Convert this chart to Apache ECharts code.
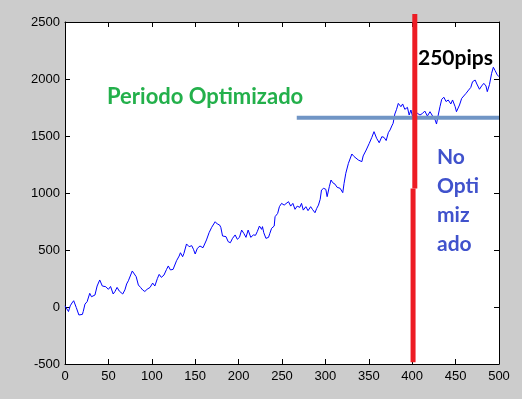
<!DOCTYPE html>
<html>
<head>
<meta charset="utf-8">
<script src="https://cdn.jsdelivr.net/npm/echarts@6/dist/echarts.min.js"></script>
<style>
html,body{margin:0;padding:0;background:#cccccc;}
#main{width:522px;height:399px;}
</style>
</head>
<body>
<div id="main"></div>
<script>
// curva de equity (x = operacion, y = pips)
var equityX = [0,2,4,6,8,10,13,16,18,20,21,23,25.5,28.5,30.5,34.5,37,40,43,47,50,52.5,55.5,57.5,60,62.5,66.5,69,71,73,75,77.5,79.5,82,84.5,87,89.5,92,94.5,98,101,103.5,106.5,108.5,111,114,117,119,121.5,124.5,126.5,128.5,131.5,133,135.5,137,140,143,146,148,150,152.5,
	155.5,159,163,166,169,173,175.5,178,179.5,181.5,183,185.5,188,190.5,193,196,198.5,201,203.5,206,208.5,211,214,217,219.5,221.5,224,226.5,227.5,229,231.5,234.5,236,238,241,242,245,247,249.5,252.5,254.5,257.5,260,262.5,265,267.5,270.5,272.5,274.5,277.5,280,283,285,288,290,292,294,295.5,298,300.5,302,304.5,306.5,308.5,311,313.5,317,320,321.5,323.5,
	326.5,330.5,333,335,338,342,343.5,347,350.5,353.5,356,359,362,365,367.5,370,372.5,374.5,376.5,378,380,382,384,387,389,391.5,394.5,396.5,398.5,400.5,406,409,412,414.5,417.5,420.5,423.5,426.5,428,430,432,434,436.5,439,441.5,444.5,446.5,449.5,451,454.5,457,459,462,465,467.5,469.5,472.5,474.5,477.5,480,482.5,485,486.5,489,491.5,493.5,495.5,498,500];
var equityY = [10,20,-40,10,35,55,-5,-70,-55,-65,-40,25,47,120,90,105,184,237,184,178,155,180,114,135,172,140,114,150,202,230,240,316,320,266,193,172,149,136,155,172,210,184,251,286,260,280,330,360,325,330,320,406,447,476,441,470,553,529,538,506,465,515,
	535,520,588,652,699,748,728,720,699,623,608,617,573,564,602,632,594,611,675,646,611,675,611,632,629,661,710,681,705,652,602,611,646,690,710,792,821,880,909,894,880,924,885,909,857,885,874,909,850,880,845,880,857,827,865,894,945,1026,1041,1032,968,1055,1114,1090,1078,1050,1041,1003,1084,1173,
	1260,1342,1320,1330,1289,1275,1325,1377,1435,1488,1538,1480,1441,1494,1488,1460,1529,1553,1588,1611,1693,1734,1786,1757,1781,1734,1751,1684,1728,1669,1699,1684,1699,1719,1675,1713,1675,1640,1605,1684,1757,1822,1840,1802,1816,1781,1816,1757,1713,1772,1830,1845,1874,1903,1926,1976,1991,1956,1910,1939,1962,1939,1889,1950,2050,2103,2074,2036,2020];

var corteArriba = [[403, 2570], [403, 1040]]; // linea roja, tramo de arriba
var corteAbajo = [[401, 1040], [401, -485]]; // linea roja, tramo de abajo
var nivelOptimizado = [[267, 1660], [500, 1660]]; // linea horizontal

var xTicks = {min: 0, max: 500, step: 50};
var yTicks = {min: -500, max: 2500, step: 500};

var equity = equityX.map(function (x, i) { return [x, equityY[i]]; });

var chart = echarts.init(document.getElementById('main'));

var axisFont = {color: '#000', fontFamily: 'Liberation Sans', fontSize: 13, formatter: function (v) { return String(v); }};
var tick = {show: true, inside: true, length: 5, lineStyle: {color: '#000'}};
var line = {show: true, onZero: false, lineStyle: {color: '#000', width: 1}};

chart.setOption({
	backgroundColor: '#cccccc',
	animation: false,
	grid: {left: 65, right: 23, top: 22, bottom: 35, show: true, backgroundColor: '#fff', borderWidth: 0},
	xAxis: [
		{type: 'value', position: 'bottom', min: xTicks.min, max: xTicks.max, interval: xTicks.step,
			axisLine: line, axisTick: tick, splitLine: {show: false}, axisLabel: Object.assign({margin: 6}, axisFont)},
		{type: 'value', position: 'top', min: xTicks.min, max: xTicks.max, interval: xTicks.step,
			axisLine: line, axisTick: tick, splitLine: {show: false}, axisLabel: {show: false}}
	],
	yAxis: [
		{type: 'value', position: 'left', min: yTicks.min, max: yTicks.max, interval: yTicks.step,
			axisLine: line, axisTick: tick, splitLine: {show: false}, axisLabel: Object.assign({margin: 5}, axisFont)},
		{type: 'value', position: 'right', min: yTicks.min, max: yTicks.max, interval: yTicks.step,
			axisLine: line, axisTick: tick, splitLine: {show: false}, axisLabel: {show: false}}
	],
	series: [
		{type: 'line', data: equity, symbol: 'none', lineStyle: {color: '#0000ff', width: 1}, z: 2},
		{type: 'line', data: nivelOptimizado, symbol: 'none', clip: false, lineStyle: {color: '#7095c5', width: 4}, z: 3},
		{type: 'line', data: corteArriba, symbol: 'none', clip: false, lineStyle: {color: '#ed1c24', width: 5}, z: 4},
		{type: 'line', data: corteAbajo, symbol: 'none', clip: false, lineStyle: {color: '#ed1c24', width: 5}, z: 4}
	],
	graphic: [
		{type: 'text', z: 10, style: {text: 'Periodo Optimizado', x: 107, y: 97, verticalAlign: 'middle',
			font: 'bold 22px Lato', fill: '#23b04b'}},
		{type: 'text', z: 10, style: {text: '250pips', x: 418, y: 58, verticalAlign: 'middle',
			font: 'bold 21px Lato', fill: '#000'}},
		{type: 'text', z: 10, style: {text: 'No\nOpti\nmiz\nado', x: 437, y: 143, lineHeight: 29,
			font: 'bold 21px Lato', fill: '#4052cc'}}
	]
});
</script>
</body>
</html>
